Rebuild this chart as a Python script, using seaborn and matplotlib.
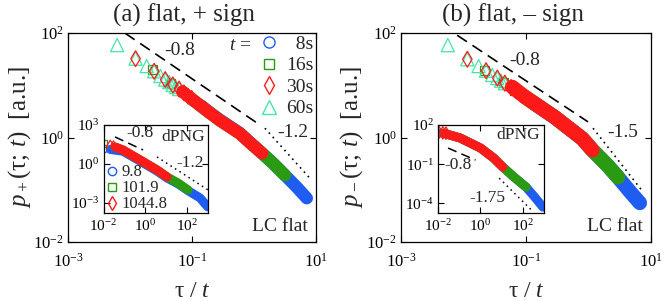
import seaborn as sns
import matplotlib.pyplot as plt
from matplotlib.lines import Line2D
from matplotlib.ticker import FixedLocator, NullLocator

# ---------------- data ----------------
# (a) flat, + sign : separate markers at small tau/t
a_60s_x = [0.0062, 0.0123, 0.0186, 0.0245, 0.031, 0.037, 0.043, 0.049, 0.055, 0.062]
a_60s_y = [58.9, 32.4, 23.4, 18.6, 15.1, 12.9, 11.5, 10.2, 9.3, 8.5]
a_30s_x = [0.0123, 0.0245, 0.037, 0.049, 0.062, 0.074, 0.086, 0.099]
a_30s_y = [32.4, 18.6, 12.9, 10.2, 8.5, 7.2, 6.2, 5.6]
a_16s_x = [0.023, 0.046, 0.069, 0.092]
a_16s_y = [20.0, 10.7, 7.6, 6.0]
a_8s_x = [0.046, 0.092, 0.138]
a_8s_y = [10.7, 6.0, 4.1]
# dense part of each series (drawn as a thick band)
a_band30_x = [0.07, 0.083, 0.195, 0.28, 0.59, 0.87, 1.35]
a_band30_y = [7.6, 6.46, 2.95, 2.14, 1.20, 0.79, 0.50]
a_band16_x = [0.1, 0.195, 0.28, 0.59, 0.87, 1.35, 2.04, 3.16]
a_band16_y = [5.4, 2.95, 2.14, 1.20, 0.79, 0.50, 0.32, 0.19]
a_band8_x = [0.14, 0.195, 0.28, 0.59, 0.87, 1.35, 2.04, 3.16, 4.9, 7.1]
a_band8_y = [4.1, 3.0, 2.2, 1.22, 0.80, 0.50, 0.32, 0.19, 0.112, 0.069]
a_dash_x = [0.0083, 1.12]
a_dash_y = [100.0, 1.9]
a_dot_x = [1.5, 7.9]
a_dot_y = [1.51, 0.168]

# (b) flat, - sign
b_60s_x = [0.0056, 0.0115, 0.0174, 0.0229, 0.0288, 0.0347, 0.0398, 0.0457]
b_60s_y = [58.9, 31.6, 23.4, 19.1, 15.8, 13.8, 12.3, 11.0]
b_30s_x = [0.0115, 0.0229, 0.0347, 0.0457, 0.0575, 0.069]
b_30s_y = [31.6, 19.1, 13.8, 11.0, 9.1, 7.9]
b_16s_x = [0.0219, 0.0437, 0.066]
b_16s_y = [19.5, 11.2, 8.1]
b_8s_x = [0.0437, 0.087, 0.132]
b_8s_y = [11.2, 6.5, 4.6]
b_band30_x = [0.06, 0.0955, 0.288, 0.794, 1.15]
b_band30_y = [9.3, 6.03, 2.45, 0.955, 0.575]
b_band16_x = [0.0955, 0.288, 0.794, 1.15, 2.0, 2.95]
b_band16_y = [6.03, 2.45, 0.955, 0.575, 0.295, 0.174]
b_band8_x = [0.132, 0.288, 0.794, 1.15, 2.0, 2.95, 4.57, 6.6]
b_band8_y = [4.6, 2.45, 0.955, 0.575, 0.295, 0.174, 0.093, 0.056]
b_dash_x = [0.0079, 0.98]
b_dash_y = [91.0, 2.0]
b_dot_x = [1.18, 7.45]
b_dot_y = [1.51, 0.091]

# insets: dPNG
ia_9_8_x = [0.0105, 0.021]
ia_9_8_y = [14.1, 13.2]
ia_101_9_x = [0.0105]
ia_101_9_y = [38.9]
ia_1044_8_x = [0.021, 0.03]
ia_1044_8_y = [22.4, 20.0]
ia_band1044_x = [0.0355, 0.085, 0.56, 3.63, 11.0]
ia_band1044_y = [20.0, 12.0, 2.04, 0.347, 0.1]
ia_band101_x = [0.0355, 0.085, 0.56, 3.63, 11.0, 36.3, 110.0]
ia_band101_y = [20.0, 12.0, 2.04, 0.347, 0.1, 0.0347, 0.01]
ia_band9_x = [0.025, 0.085, 0.56, 3.63, 11.0, 36.3, 110.0, 417.0, 980.0]
ia_band9_y = [12.6, 9.55, 1.66, 0.282, 0.083, 0.030, 0.0089, 0.0024, 0.00049]
ia_dash_x = [0.0355, 0.776]
ia_dash_y = [120.0, 12.0]
ia_dot_x = [3.63, 1000.0]
ia_dot_y = [3.47, 0.01]

ib_9_8_x = [0.0105, 0.016]
ib_9_8_y = [24.0, 23.0]
ib_101_9_x = [0.0105]
ib_101_9_y = [25.0]
ib_1044_8_x = [0.011, 0.017, 0.024]
ib_1044_8_y = [27.0, 25.0, 23.5]
ib_band1044_x = [0.02, 0.112, 1.02, 4.27, 11.5]
ib_band1044_y = [22.4, 10.0, 1.70, 0.288, 0.059]
ib_band101_x = [0.02, 0.112, 1.02, 4.27, 11.5, 38.9, 145.0]
ib_band101_y = [22.4, 10.0, 1.70, 0.288, 0.059, 0.01, 0.0017]
ib_band9_x = [0.02, 0.112, 1.02, 4.27, 11.5, 38.9, 145.0, 355.0, 891.0]
ib_band9_y = [22.4, 10.0, 1.70, 0.288, 0.059, 0.01, 0.0017, 0.000316, 0.00005]
ib_dash_x = [0.030, 0.589]
ib_dash_y = [1.7, 0.204]
ib_dot_x = [7.76, 316.0]
ib_dot_y = [0.0083, 0.0000214]

BLUE = '#1f5cf0'
GREEN = '#2a9a12'
RED = '#ff1a1a'
AQUA = '#45e6a6'

sns.set_style('ticks')
plt.rcParams['font.family'] = ['Liberation Serif', 'DejaVu Serif']
plt.rcParams['mathtext.fontset'] = 'custom'
plt.rcParams['mathtext.rm'] = 'Liberation Serif'
plt.rcParams['mathtext.it'] = 'Liberation Serif:italic'
plt.rcParams['axes.edgecolor'] = 'black'
plt.rcParams['axes.linewidth'] = 0.9
plt.rcParams['xtick.color'] = 'black'
plt.rcParams['ytick.color'] = 'black'


def hollow(ax, x, y, marker, color, s, lw=0.9):
    sns.scatterplot(x=x, y=y, ax=ax, marker=marker, s=s, color=color,
                    facecolor='none', edgecolor=color, linewidth=lw, legend=False)


def band(ax, x, y, color, lw):
    sns.lineplot(x=x, y=y, ax=ax, color=color, linewidth=lw, sort=False,
                 estimator=None, solid_capstyle='round', legend=False)


def guide(ax, x, y, ls, lw=1.1):
    sns.lineplot(x=x, y=y, ax=ax, color='black', linewidth=lw, linestyle=ls,
                 sort=False, estimator=None, legend=False)


def style_axes(ax, xt, yt, lims, size, xpad):
    ax.set_xscale('log')
    ax.set_yscale('log')
    ax.set_xlim(lims[0], lims[1])
    ax.set_ylim(lims[2], lims[3])
    ax.xaxis.set_major_locator(FixedLocator(xt))
    ax.yaxis.set_major_locator(FixedLocator(yt))
    ax.xaxis.set_minor_locator(NullLocator())
    ax.yaxis.set_minor_locator(NullLocator())
    ax.tick_params(which='both', direction='in', top=True, right=True,
                   length=4, width=0.8, labelsize=size, pad=3)
    ax.tick_params(axis='x', pad=xpad)


fig = plt.figure(figsize=(6.64, 3.01), dpi=100)
ax_a = fig.add_axes([0.1024, 0.196, 0.3735, 0.694])
ax_b = fig.add_axes([0.604, 0.196, 0.3765, 0.694])
in_a = fig.add_axes([0.1559, 0.2934, 0.1574, 0.2914])
in_b = fig.add_axes([0.6596, 0.2924, 0.1596, 0.2924])

main = [
    (ax_a, 9, a_60s_x, a_60s_y, a_30s_x, a_30s_y, a_16s_x, a_16s_y, a_8s_x, a_8s_y,
     a_band30_x, a_band30_y, a_band16_x, a_band16_y, a_band8_x, a_band8_y),
    (ax_b, 10.5, b_60s_x, b_60s_y, b_30s_x, b_30s_y, b_16s_x, b_16s_y, b_8s_x, b_8s_y,
     b_band30_x, b_band30_y, b_band16_x, b_band16_y, b_band8_x, b_band8_y),
]
for (ax, bw, x60, y60, x30, y30, x16, y16, x8, y8,
     bx30, by30, bx16, by16, bx8, by8) in main:
    band(ax, bx8, by8, BLUE, bw)
    band(ax, bx16, by16, GREEN, bw)
    hollow(ax, x8, y8, 'o', BLUE, 55)
    hollow(ax, x16, y16, 's', GREEN, 40)
    hollow(ax, x60, y60, '^', AQUA, 90)
    band(ax, bx30, by30, RED, bw)
    hollow(ax, x30, y30, 'd', RED, 65)
    style_axes(ax, [1e-3, 1e-1, 1e1], [1e-2, 1e0, 1e2], (1e-3, 1e1, 1e-2, 1e2), 12, 8)
    ax.text(0.968, 0.072, 'LC flat', transform=ax.transAxes, ha='right',
            va='center', fontsize=14)
    ax.set_xlabel('τ / $t$', fontsize=17, va='center')
    ax.xaxis.set_label_coords(0.5, -0.235)

guide(ax_a, a_dash_x, a_dash_y, (0, (7, 4)), 1.2)
guide(ax_a, a_dot_x, a_dot_y, (0, (1, 2.5)), 1.2)
guide(ax_b, b_dash_x, b_dash_y, (0, (7, 4)), 1.2)
guide(ax_b, b_dot_x, b_dot_y, (0, (1, 2.5)), 1.2)

ax_a.text(0.452, 0.919, '-0.8', transform=ax_a.transAxes, ha='center', va='center', fontsize=14)
ax_a.text(0.968, 0.526, '-1.2', transform=ax_a.transAxes, ha='right', va='center', fontsize=14)
ax_b.text(0.496, 0.871, '-0.8', transform=ax_b.transAxes, ha='center', va='center', fontsize=14)
ax_b.text(0.948, 0.522, '-1.5', transform=ax_b.transAxes, ha='right', va='center', fontsize=14)

ax_a.set_ylabel('$p_+$(τ; $t$)  [a.u.]', fontsize=18, va='center')
ax_a.yaxis.set_label_coords(-0.194, 0.5)
ax_b.set_ylabel('$p_-$(τ; $t$)  [a.u.]', fontsize=18, va='center')
ax_b.yaxis.set_label_coords(-0.196, 0.5)

fig.text(0.277, 0.95, '(a) flat, + sign', ha='center', va='center', fontsize=18)
fig.text(0.773, 0.95, '(b) flat, – sign', ha='center', va='center', fontsize=18)

# legend of the main panel (a)
handles = [Line2D([], [], ls='none', marker=m, mfc='none', mec=c, ms=ms, mew=1.0)
           for m, c, ms in [('o', BLUE, 8), ('s', GREEN, 7), ('d', RED, 9), ('^', AQUA, 10)]]
ax_a.legend(handles, ['  8s', '16s', '30s', '60s'], loc='upper right',
            bbox_to_anchor=(0.99, 0.99), frameon=False, fontsize=14,
            handlelength=0.8, handletextpad=0.5, labelspacing=0.2, borderpad=0,
            borderaxespad=0)
ax_a.text(0.695, 0.943, '$t$ =', transform=ax_a.transAxes, ha='center',
          va='center', fontsize=14)

# insets
ins = [
    (in_a, ia_9_8_x, ia_9_8_y, ia_101_9_x, ia_101_9_y, ia_1044_8_x, ia_1044_8_y,
     ia_band1044_x, ia_band1044_y, ia_band101_x, ia_band101_y, ia_band9_x, ia_band9_y,
     [1e-3, 1e0, 1e3], (1e-2, 1e3, 10 ** -3.75, 1e3)),
    (in_b, ib_9_8_x, ib_9_8_y, ib_101_9_x, ib_101_9_y, ib_1044_8_x, ib_1044_8_y,
     ib_band1044_x, ib_band1044_y, ib_band101_x, ib_band101_y, ib_band9_x, ib_band9_y,
     [1e-4, 1e-1, 1e2], (1e-2, 1e3, 10 ** -4.75, 1e2)),
]
for (ax, x9, y9, x101, y101, x1044, y1044,
     bx1044, by1044, bx101, by101, bx9, by9, yt, lims) in ins:
    band(ax, bx9, by9, BLUE, 6.5)
    band(ax, bx101, by101, GREEN, 6.5)
    band(ax, bx1044, by1044, RED, 6.5)
    hollow(ax, x9, y9, 'o', BLUE, 30)
    hollow(ax, x101, y101, 's', GREEN, 25)
    hollow(ax, x1044, y1044, 'd', RED, 40)
    style_axes(ax, [1e-2, 1e0, 1e2], yt, lims, 11, 4)
    ax.set_xlabel('')
    ax.set_ylabel('')

guide(in_a, ia_dash_x, ia_dash_y, (0, (6, 3.5)), 1.1)
guide(in_a, ia_dot_x, ia_dot_y, (0, (1, 2.5)), 1.1)
guide(in_b, ib_dash_x, ib_dash_y, (0, (6, 3.5)), 1.1)
guide(in_b, ib_dot_x, ib_dot_y, (0, (1, 2.5)), 1.1)

in_a.text(0.35, 0.905, '-0.8', transform=in_a.transAxes, ha='center', va='center', fontsize=12.5)
in_a.text(0.76, 0.86, 'dPNG', transform=in_a.transAxes, ha='center', va='center', fontsize=12.5)
in_a.text(0.83, 0.57, '-1.2', transform=in_a.transAxes, ha='center', va='center', fontsize=12.5)
in_b.text(0.755, 0.886, 'dPNG', transform=in_b.transAxes, ha='center', va='center', fontsize=12.5)
in_b.text(0.19, 0.545, '-0.8', transform=in_b.transAxes, ha='center', va='center', fontsize=12.5)
in_b.text(0.47, 0.17, '-1.75', transform=in_b.transAxes, ha='center', va='center', fontsize=12.5)

ihandles = [Line2D([], [], ls='none', marker=m, mfc='none', mec=c, ms=ms, mew=1.0)
            for m, c, ms in [('o', BLUE, 6), ('s', GREEN, 5.5), ('d', RED, 7)]]
in_a.legend(ihandles, ['9.8', '101.9', '1044.8'], loc='lower left',
            bbox_to_anchor=(0.0, -0.035), frameon=False, fontsize=12,
            handlelength=0.6, handletextpad=0.3, labelspacing=0.0, borderpad=0.1,
            borderaxespad=0.1)

fig.savefig('out.png', dpi=100)
